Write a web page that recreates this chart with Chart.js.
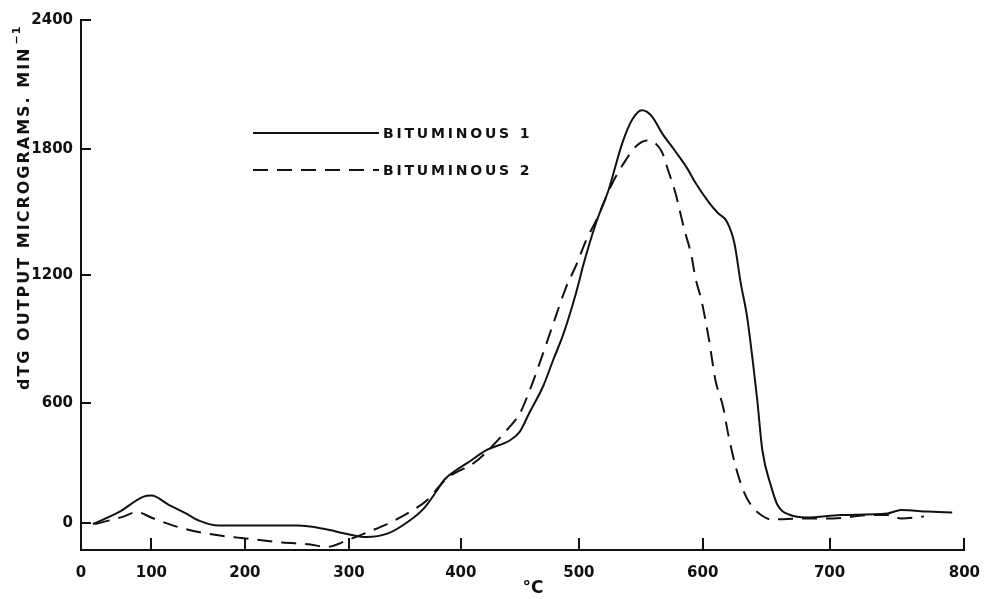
<!DOCTYPE html>
<html>
<head>
<meta charset="utf-8">
<title>dTG curves of two bituminous coals</title>
<script src="https://cdn.jsdelivr.net/npm/chart.js@4.4.1/dist/chart.umd.min.js"></script>
<style>
  html, body { margin: 0; padding: 0; background: #ffffff; }
  #c { display: block; }
</style>
</head>
<body>
<canvas id="c" width="994" height="599"></canvas>
<script>
// Temperature (°C) and dTG output (micrograms per minute) for each coal
const temps1 = [17, 55, 88, 100, 119, 137, 151, 172, 215, 251, 277, 296, 315, 335, 355, 367, 379, 385, 396, 405, 422, 442, 450, 458, 470, 478, 487, 495, 500, 503, 514, 524, 535, 543, 551, 559, 567, 578, 588, 594, 605, 612, 619, 625, 630, 635, 640, 643, 647, 654, 659, 669, 682, 708, 743, 753, 773, 791];
const bituminous1 = [-5, 57, 131, 137, 90, 48, 12, -13, -13, -13, -30, -52, -70, -52, 15, 73, 165, 215, 265, 298, 365, 415, 457, 550, 682, 798, 925, 1065, 1165, 1235, 1450, 1605, 1826, 1936, 1980, 1952, 1875, 1788, 1703, 1640, 1545, 1495, 1455, 1351, 1162, 1004, 770, 614, 365, 182, 90, 40, 28, 40, 48, 65, 57, 52];

const temps2 = [20, 60, 79, 101, 127, 162, 201, 236, 263, 278, 299, 318, 336, 355, 370, 381, 388, 411, 420, 439, 450, 457, 467, 472, 481, 489, 498, 506, 514, 527, 538, 546, 555, 567, 572, 578, 585, 591, 594, 599, 605, 610, 616, 620, 626, 633, 639, 646, 654, 680, 703, 729, 744, 753, 770];
const bituminous2 = [-5, 32, 55, 25, -18, -55, -77, -98, -107, -120, -85, -43, 0, 57, 115, 185, 225, 300, 345, 465, 548, 640, 790, 870, 1015, 1140, 1250, 1367, 1460, 1637, 1748, 1812, 1840, 1787, 1700, 1590, 1420, 1290, 1190, 1081, 895, 708, 582, 448, 282, 148, 82, 40, 18, 23, 23, 40, 40, 23, 32];

const seriesNames = ['BITUMINOUS 1', 'BITUMINOUS 2'];
const xTicks = [0, 100, 200, 300, 400, 500, 600, 700, 800];
const yTicks = [0, 600, 1200, 1800, 2400];

// The hand-drawn axes are not evenly graduated: each axis is calibrated
// by the fraction of its length at which every graduation sits.
const axisKnots = {
  x: { values: [0, 100, 200, 300, 400, 500, 600, 700, 800],
       fracs:  [0, 0.0797, 0.1855, 0.3033, 0.4300, 0.5636, 0.7038, 0.8474, 1] },
  y: { values: [-135, 0, 600, 1200, 1800, 2400],
       fracs:  [0, 0.0509, 0.2774, 0.5189, 0.7566, 1] }
};

function interp(xs, ys, v) {
  const n = xs.length;
  let i = 0;
  if (v <= xs[0]) i = 0;
  else if (v >= xs[n - 1]) i = n - 2;
  else { while (i < n - 2 && v > xs[i + 1]) i++; }
  const t = (v - xs[i]) / (xs[i + 1] - xs[i]);
  return ys[i] + t * (ys[i + 1] - ys[i]);
}

class CalibratedScale extends Chart.LinearScale {
  static id = 'calibrated';
  getPixelForValue(value) {
    if (value === null || value === undefined || isNaN(value)) return NaN;
    const k = axisKnots[this.axis];
    return this.getPixelForDecimal(interp(k.values, k.fracs, value));
  }
  getValueForPixel(pixel) {
    const k = axisKnots[this.axis];
    return interp(k.fracs, k.values, this.getDecimalForPixel(pixel));
  }
}
Chart.register(CalibratedScale);

const INK = '#111111';
const FONT = '"DejaVu Sans", "Liberation Sans", sans-serif';
const curveDash = [15, 9];

// Inward tick marks, legend and axis titles
const decorations = {
  id: 'decorations',
  afterDraw(chart) {
    const { ctx, chartArea, scales } = chart;
    ctx.save();
    ctx.strokeStyle = INK;
    ctx.lineWidth = 2;
    ctx.setLineDash([]);
    scales.y.ticks.forEach(t => {
      const py = Math.round(scales.y.getPixelForValue(t.value));
      ctx.beginPath();
      ctx.moveTo(chartArea.left, py);
      ctx.lineTo(chartArea.left + 10, py);
      ctx.stroke();
    });
    scales.x.ticks.forEach(t => {
      const px = Math.round(scales.x.getPixelForValue(t.value));
      if (t.value === 0) return;
      ctx.beginPath();
      ctx.moveTo(px, chartArea.bottom);
      ctx.lineTo(px, chartArea.bottom - 12);
      ctx.stroke();
    });

    // legend
    chart.data.datasets.forEach((ds, i) => {
      const y = 133 + i * 37;
      ctx.setLineDash(ds.borderDash || []);
      ctx.lineWidth = 2;
      ctx.beginPath();
      ctx.moveTo(253, y);
      ctx.lineTo(379, y);
      ctx.stroke();
      ctx.setLineDash([]);
      ctx.fillStyle = INK;
      ctx.font = 'bold 14px ' + FONT;
      ctx.letterSpacing = '2.8px';
      ctx.textAlign = 'left';
      ctx.textBaseline = 'middle';
      ctx.fillText(ds.label, 383, y + 1);
    });

    // y-axis title, rotated
    const main = 'dTG OUTPUT MICROGRAMS. MIN';
    ctx.translate(29, 390);
    ctx.rotate(-Math.PI / 2);
    ctx.font = 'bold 16px ' + FONT;
    ctx.letterSpacing = '2px';
    ctx.textBaseline = 'alphabetic';
    ctx.textAlign = 'left';
    ctx.fillText(main, 0, 0);
    const w = ctx.measureText(main).width;
    ctx.font = 'bold 11px ' + FONT;
    ctx.letterSpacing = '1px';
    ctx.fillText('\u22121', w + 2, -9);
    ctx.restore();

    // x-axis title
    ctx.save();
    ctx.fillStyle = INK;
    ctx.font = 'bold 17px ' + FONT;
    ctx.textAlign = 'center';
    ctx.textBaseline = 'middle';
    ctx.fillText('\u00B0C', 533, 589);
    ctx.restore();
  }
};

new Chart(document.getElementById('c'), {
  type: 'line',
  data: {
    datasets: [
      {
        label: seriesNames[0],
        data: temps1.map((t, i) => ({ x: t, y: bituminous1[i] })),
        borderColor: INK,
        borderWidth: 2,
        borderDash: [],
        pointRadius: 0,
        fill: false,
        cubicInterpolationMode: 'monotone'
      },
      {
        label: seriesNames[1],
        data: temps2.map((t, i) => ({ x: t, y: bituminous2[i] })),
        borderColor: INK,
        borderWidth: 2,
        borderDash: curveDash,
        pointRadius: 0,
        fill: false,
        cubicInterpolationMode: 'monotone'
      }
    ]
  },
  options: {
    responsive: false,
    animation: false,
    layout: { padding: { left: 0, top: 20, right: 22, bottom: 0 } },
    plugins: {
      legend: { display: false },
      tooltip: { enabled: false }
    },
    scales: {
      x: {
        type: 'calibrated',
        min: 0,
        max: 800,
        afterBuildTicks: s => { s.ticks = xTicks.map(v => ({ value: v })); },
        afterFit: s => { s.height = 49; },
        grid: { display: false, drawTicks: false },
        border: { display: true, color: INK, width: 2 },
        ticks: {
          color: INK,
          font: { family: FONT, size: 15, weight: 'bold' },
          padding: 14,
          maxRotation: 0,
          autoSkip: false,
          callback: v => String(v)
        }
      },
      y: {
        type: 'calibrated',
        min: -135,
        max: 2400,
        afterBuildTicks: s => { s.ticks = yTicks.map(v => ({ value: v })); },
        afterFit: s => { s.width = 81; },
        grid: { display: false, drawTicks: false },
        border: { display: true, color: INK, width: 2 },
        ticks: {
          color: INK,
          font: { family: FONT, size: 15, weight: 'bold' },
          padding: 8,
          autoSkip: false,
          callback: v => String(v)
        }
      }
    }
  },
  plugins: [decorations]
});
</script>
</body>
</html>
